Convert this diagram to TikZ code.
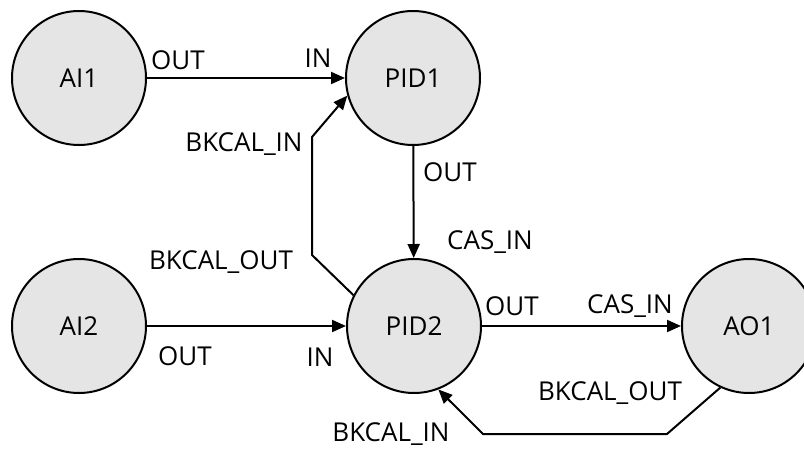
\documentclass[tikz,border=0pt]{standalone}
\usepackage{fontspec}
\setmainfont{Open Sans}
\usetikzlibrary{arrows.meta}

\tikzset{
  block/.style={circle,draw,line width=2pt,fill=gray!20,minimum size=134pt,inner sep=0pt,
    font=\fontsize{26}{30}\selectfont},
  link/.style={line width=2pt,-{Triangle[length=14pt,width=12pt]}},
  port/.style={font=\fontsize{26}{30}\selectfont,inner sep=0pt}
}

\begin{document}
\begin{tikzpicture}[x=1pt,y=-1pt]
\useasboundingbox (0,0) rectangle (804,453);
%% blocks
\node[block] (AI1) at (79,78) {AI1};
\node[block] (PID1) at (413,78) {PID1};
\node[block] (AI2) at (79,326) {AI2};
\node[block] (PID2) at (414,326) {PID2};
\node[block] (AO1) at (749,326) {AO1};
%
\coordinate (ba) at (312,255);
\coordinate (bb) at (312,137);
\coordinate (bc) at (667,434);
\coordinate (bd) at (483,434);
%% forward links
\draw[link] (AI1) -- (PID1);
\draw[link] (PID1) -- (PID2);
\draw[link] (AI2) -- (PID2);
\draw[link] (PID2) -- (AO1);
%% back calculation
\draw[link] (PID2.153) -- (ba) -- (bb) -- (PID1.195);
\draw[link] (AO1.245) -- (bc) -- (bd) -- (PID2.291);
%% port names
\node[port] at (178,60) {OUT};
\node[port] at (318,58) {IN};
\node[port] at (244,144) {BKCAL\_IN};
\node[port] at (450,172) {OUT};
\node[port] at (490,242) {CAS\_IN};
\node[port] at (221,262) {BKCAL\_OUT};
\node[port] at (185,356) {OUT};
\node[port] at (320,357) {IN};
\node[port] at (512,306) {OUT};
\node[port] at (630,306) {CAS\_IN};
\node[port] at (610,393) {BKCAL\_OUT};
\node[port] at (391,434) {BKCAL\_IN};
\end{tikzpicture}
\end{document}
